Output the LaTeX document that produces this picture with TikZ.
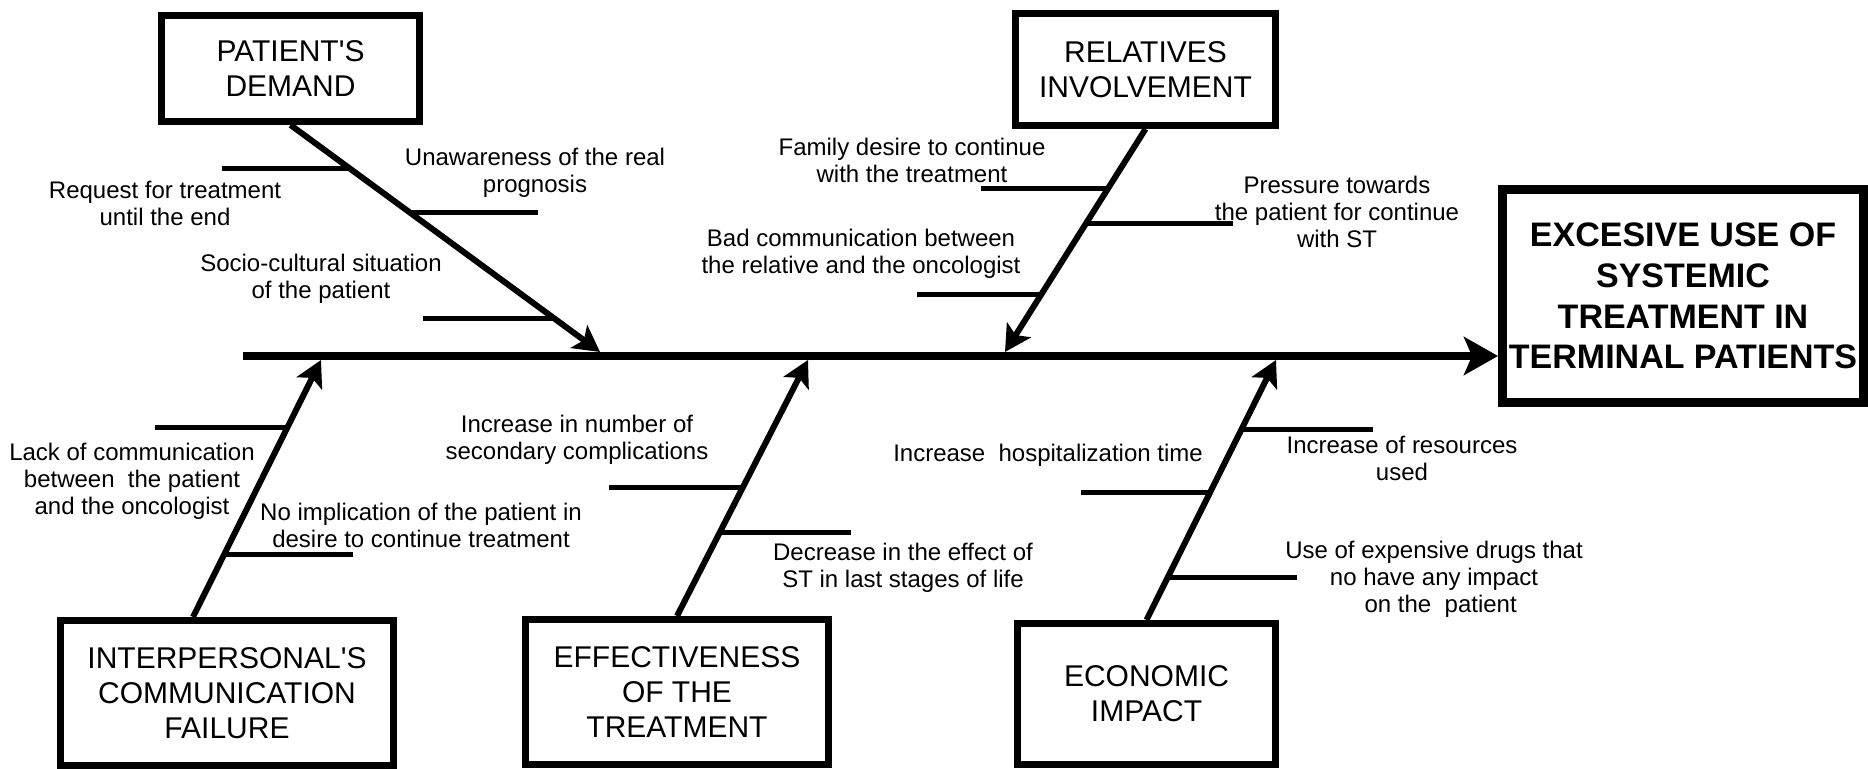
\documentclass[tikz,border=0pt]{standalone}
\usepackage{fontspec}
\setmainfont{Liberation Sans}
\usetikzlibrary{arrows.meta,calc}
\begin{document}
\begin{tikzpicture}[x=0.5pt,y=-0.5pt,
  box/.style={draw,line width=3.5pt,rectangle,inner sep=0pt,align=center,font=\fontsize{15}{17.5}\selectfont},
  mainbox/.style={draw,line width=4.5pt,rectangle,inner sep=0pt,align=center,font=\bfseries\fontsize{17}{20.3}\selectfont},
  lbl/.style={align=center,inner sep=0pt,font=\fontsize{12}{13.5}\selectfont},
  bone/.style={line width=3pt,-{Stealth[length=13pt,width=14pt,inset=3pt]}},
  rib/.style={line width=2.5pt},
  spine/.style={line width=4.25pt,-{Stealth[length=17pt,width=19pt,inset=4pt]}}
]
\useasboundingbox (0,0) rectangle (1868,769);
\fill[white] (0,0) rectangle (1868,769);

% boxes
\node[mainbox,minimum width=180.5pt,minimum height=106.5pt] (main) at (1683,296)
  {EXCESIVE USE OF\\SYSTEMIC\\TREATMENT IN\\TERMINAL PATIENTS};
\node[box,minimum width=129pt,minimum height=53pt] (pd) at (290.5,68.5) {PATIENT\textquotesingle S\\DEMAND};
\node[box,minimum width=130pt,minimum height=56pt] (ri) at (1145.5,69.5) {RELATIVES\\INVOLVEMENT};
\node[box,minimum width=166.5pt,minimum height=72.5pt] (ic) at (227,693) {INTERPERSONAL\textquotesingle S\\COMMUNICATION\\FAILURE};
\node[box,minimum width=151.5pt,minimum height=72.5pt] (ef) at (677,692) {EFFECTIVENESS\\OF THE\\TREATMENT};
\node[box,minimum width=129pt,minimum height=70.5pt] (ec) at (1146.5,694) {ECONOMIC\\IMPACT};

% spine
\coordinate (spL) at (243,356);
\draw[spine] (spL) -- (spL -| main.west);

% bone tips on spine
\coordinate (pdT) at (600,352);
\coordinate (riT) at (1005,352);
\coordinate (icT) at (321,360);
\coordinate (efT) at (808,360);
\coordinate (ecT) at (1276,360);
\coordinate (icS) at ([xshift=-17pt]ic.north);

\draw[bone] (pd.south) -- (pdT);
\draw[bone] (ri.south) -- (riT);
\draw[bone] (icS) -- (icT);
\draw[bone] (ef.north) -- (efT);
\draw[bone] (ec.north) -- (ecT);

% ribs
\draw[rib] ($(pd.south)!0.190!(pdT)$) -- ++(-127,0);
\draw[rib] ($(pd.south)!0.385!(pdT)$) -- ++(128,0);
\draw[rib] ($(pd.south)!0.854!(pdT)$) -- ++(-132,0);

\draw[rib] ($(ri.south)!0.266!(riT)$) -- ++(-127,0);
\draw[rib] ($(ri.south)!0.423!(riT)$) -- ++(147,0);
\draw[rib] ($(ri.south)!0.743!(riT)$) -- ++(-124,0);

\draw[rib] ($(icS)!0.738!(icT)$) -- ++(-132,0);
\draw[rib] ($(icS)!0.242!(icT)$) -- ++(129,0);

\draw[rib] ($(ef.north)!0.502!(efT)$) -- ++(-134,0);
\draw[rib] ($(ef.north)!0.325!(efT)$) -- ++(131,0);

\draw[rib] ($(ec.north)!0.734!(ecT)$) -- ++(131,0);
\draw[rib] ($(ec.north)!0.490!(ecT)$) -- ++(-129,0);
\draw[rib] ($(ec.north)!0.162!(ecT)$) -- ++(130,0);

% labels
\node[lbl] (lreq) at (165,203) {Request for treatment\\until the end};
\node[lbl] (lunaw) at (535,173) {Unawareness of the real\\prognosis};
\node[lbl] (lsocio) at (321,279) {Socio-cultural situation\\of the patient};
\node[lbl] (lfam) at (912,160) {Family desire to continue\\with the treatment};
\node[lbl] (lbad) at (861,254) {Bad communication between\\the relative and the oncologist};
\node[lbl] (lpres) at (1337,212) {Pressure towards\\the patient for continue\\with ST};
\node[lbl] (llack) at (132,481) {Lack of communication\\between~ the patient\\and the oncologist};
\node[lbl] (lnoimp) at (421,525) {No implication of the patient in\\desire to continue treatment};
\node[lbl] (lincnum) at (577,440) {Increase in number of\\secondary complications};
\node[lbl] (ldecr) at (903,568) {Decrease in the effect of\\ST in last stages of life};
\node[lbl] (lhosp) at (1048,455) {Increase~ hospitalization time};
\node[lbl] (lincres) at (1402,458) {Increase of resources\\used};
\node[lbl] (luse) at (1434,579) {Use of expensive drugs that\\no have any impact\\~~on the~ patient};
\end{tikzpicture}
\end{document}
